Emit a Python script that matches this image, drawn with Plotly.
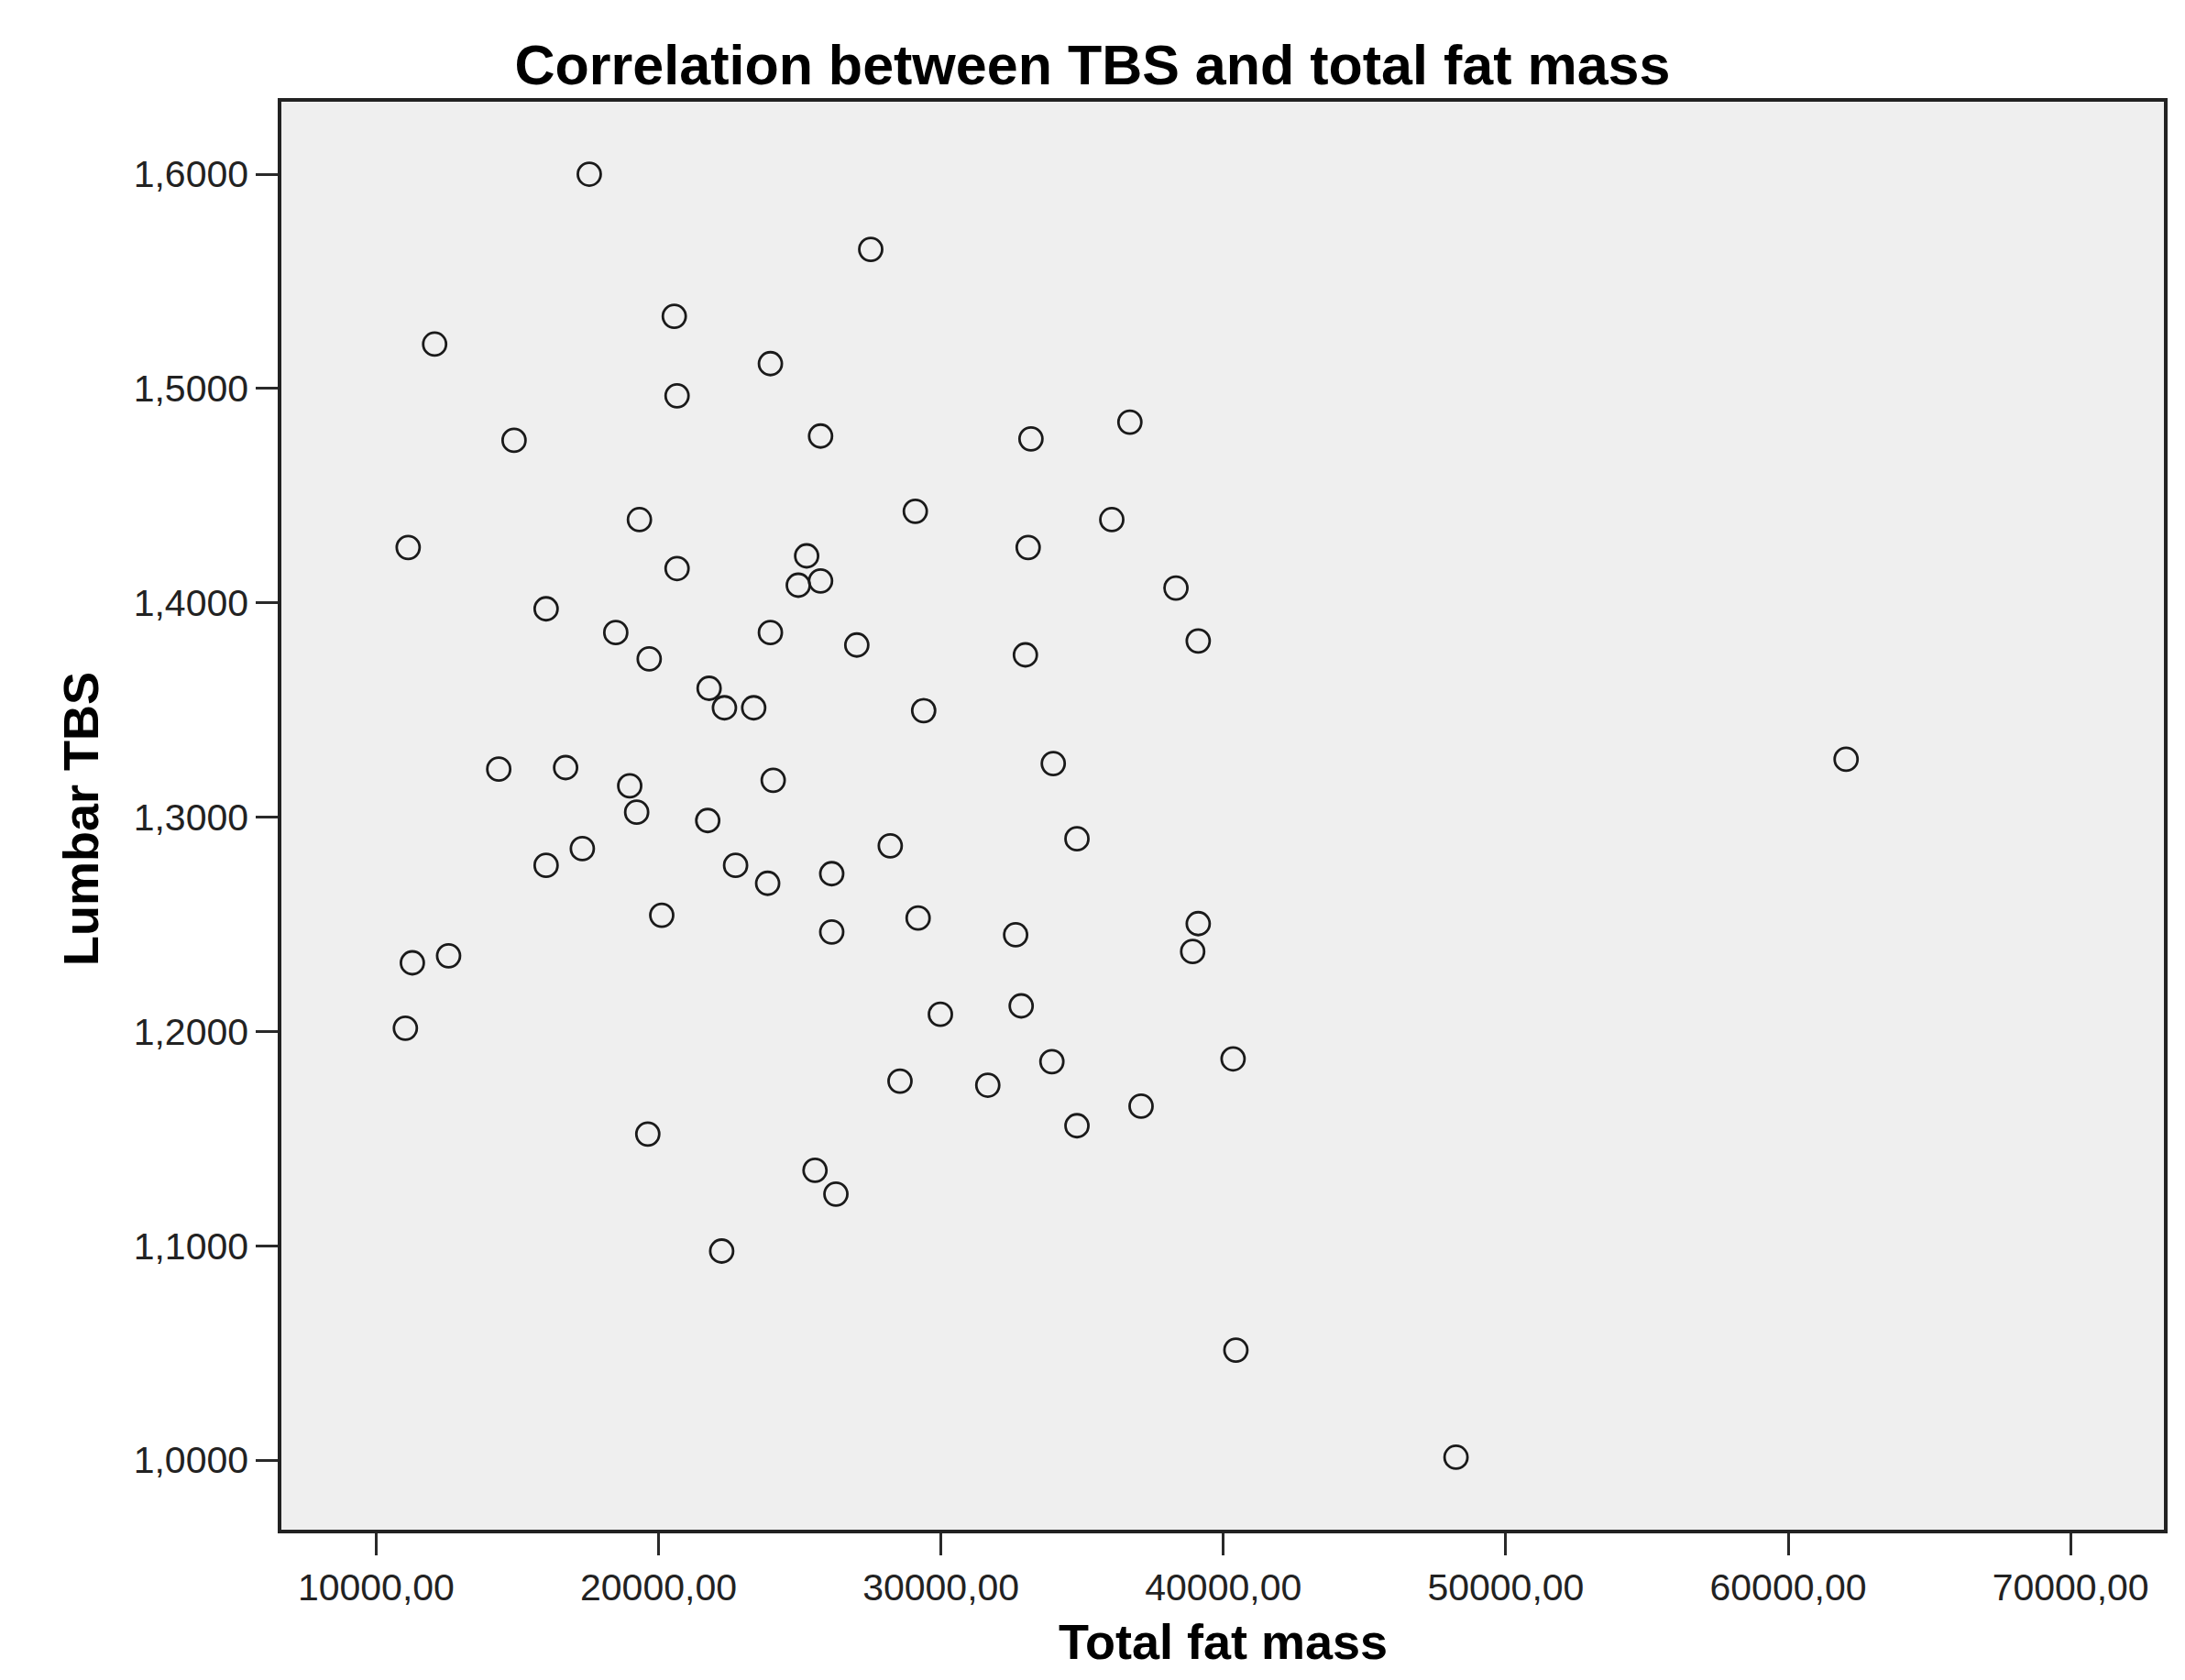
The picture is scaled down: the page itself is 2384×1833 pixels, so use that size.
import plotly.graph_objects as go

# Data
total_fat_mass = [
    17548, 27514, 20558, 12072, 23962, 20656, 36691, 14884, 25738, 33188,
    29093, 36050, 19324, 11135, 33089, 25245, 20656, 24949, 25738, 38322,
    16019, 18486, 23962, 27021, 39111, 32991, 19670, 21791, 22334, 23370,
    29389, 62052, 33978, 14342, 16710, 24061, 18980, 19226, 21742, 34817,
    28206, 17302, 16019, 22729, 26133, 23864, 20114, 29192, 39111, 26133,
    32645, 38914, 12566, 11283, 29981, 32842, 11036, 40345, 33929, 28551,
    31659, 37087, 34817, 19620, 25541, 26281, 22236, 40444, 48239,
]
lumbar_tbs = [
    1.6000, 1.5649, 1.5337, 1.5207, 1.5116, 1.4966, 1.4843, 1.4758, 1.4778, 1.4765,
    1.4427, 1.4388, 1.4388, 1.4258, 1.4258, 1.4219, 1.4160, 1.4082, 1.4102, 1.4069,
    1.3972, 1.3861, 1.3861, 1.3803, 1.3822, 1.3757, 1.3738, 1.3601, 1.3510, 1.3510,
    1.3497, 1.3270, 1.3250, 1.3224, 1.3231, 1.3172, 1.3146, 1.3023, 1.2984, 1.2899,
    1.2866, 1.2853, 1.2775, 1.2775, 1.2736, 1.2691, 1.2542, 1.2529, 1.2503, 1.2464,
    1.2451, 1.2373, 1.2353, 1.2320, 1.2080, 1.2119, 1.2015, 1.1872, 1.1859, 1.1768,
    1.1749, 1.1651, 1.1560, 1.1521, 1.1352, 1.1241, 1.0975, 1.0513, 1.0013,
]

title_text = "Correlation between TBS and total fat mass"
x_title = "Total fat mass"
y_title = "Lumbar TBS"

# page body has an 8px margin, so the figure is 16px smaller than the window
W, H = 2368, 1817
L, R, T, B = 299, 15, 103, 156
plot_h = H - T - B
plot_w = W - L - R

FONT = "Liberation Sans, Arial, sans-serif"

fig = go.Figure()
fig.add_trace(go.Scatter(
    x=total_fat_mass, y=lumbar_tbs, mode="markers",
    marker=dict(symbol="circle-open", size=25, color="#1a1a1a",
                line=dict(width=2.8, color="#1a1a1a")),
    showlegend=False, hoverinfo="x+y",
))

axis_common = dict(
    showline=True, linecolor="#222222", linewidth=3.5, mirror=True,
    ticks="outside", ticklen=24, tickwidth=3, tickcolor="#2a2a2a",
    showgrid=False, zeroline=False,
    tickfont=dict(family=FONT, size=41, color="#222222"),
)

fig.update_layout(
    width=W, height=H,
    margin=dict(l=L, r=R, t=T, b=B, autoexpand=False),
    paper_bgcolor="white", plot_bgcolor="#efefef",
    separators=",.",
    title=dict(text=title_text, x=0.5, xref="container", xanchor="center",
               y=1 - 63 / H, yref="container", yanchor="middle",
               font=dict(family=FONT, size=61, color="black", weight="bold")),
    xaxis=dict(range=[6645, 73306], tick0=0, dtick=10000, tickformat=".2f", **axis_common),
    yaxis=dict(range=[0.9675, 1.6338], tick0=0, dtick=0.1, tickformat=".4f", **axis_common),
)

fig.add_annotation(text=f"<b>{x_title}</b>", xref="paper", yref="paper",
                   x=0.5, y=-(1815 - (H - B)) / plot_h, xanchor="center", yanchor="bottom",
                   showarrow=False,
                   font=dict(family=FONT, size=54, color="black"))
fig.add_annotation(text=f"<b>{y_title}</b>", xref="paper", yref="paper",
                   x=(80 - L) / plot_w, y=0.5 - (886 - (T + plot_h / 2)) / plot_h,
                   xanchor="center", yanchor="middle", textangle=-90, showarrow=False,
                   font=dict(family=FONT, size=54, color="black"))

fig.write_html("out.html")
